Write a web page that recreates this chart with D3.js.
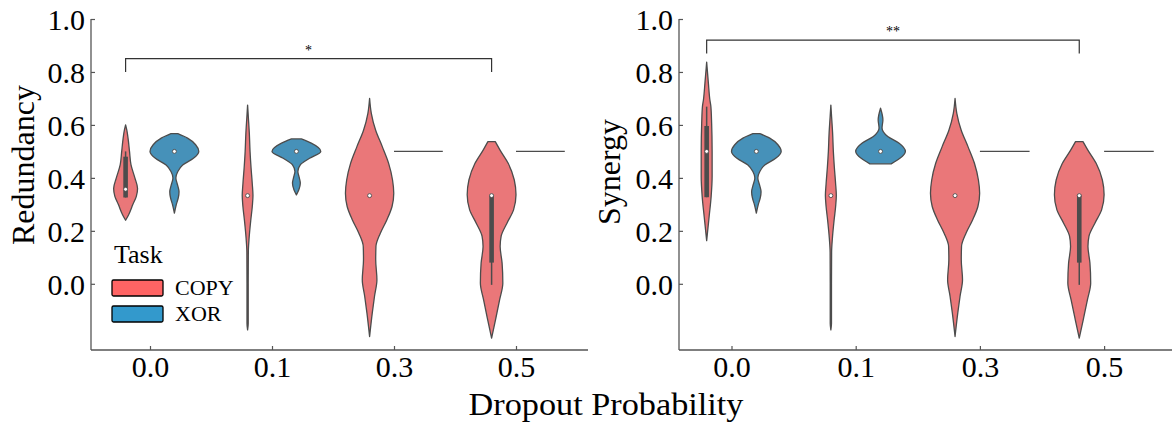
<!DOCTYPE html>
<html>
<head>
<meta charset="utf-8">
<script src="https://cdn.jsdelivr.net/npm/d3@7"></script>
<style>
  html, body { margin: 0; padding: 0; background: #fff; }
  svg { display: block; }
  text { font-family: "Liberation Serif", "Times New Roman", serif; fill: #000; }
</style>
</head>
<body>
<svg id="chart" width="1172" height="426"></svg>
<script>
// ---------------- DATA ----------------
const dropoutLevels = ["0.0", "0.1", "0.3", "0.5"];
const tasks = ["COPY", "XOR"];
const yTicks = [0.0, 0.2, 0.4, 0.6, 0.8, 1.0];
const taskColors = ["#ff6464", "#3399cc"];        // legend colours
const violinColors = ["#ea7779", "#4691b9"];      // desaturated fills

// Violin outlines: [value, relative half-width]
const redCopyShapes = [
  [[0.24,0],[0.26,0.12],[0.30,0.30],[0.33,0.44],[0.36,0.49],[0.40,0.38],[0.45,0.22],[0.50,0.16],[0.55,0.10],[0.58,0.05],[0.60,0]],
  [[-0.174,0],[-0.15,0.025],[0.0,0.025],[0.12,0.03],[0.17,0.06],[0.24,0.13],[0.29,0.19],[0.333,0.22],[0.38,0.19],[0.44,0.14],[0.50,0.10],[0.57,0.07],[0.63,0.03],[0.675,0]],
  [[-0.199,0],[-0.11,0.11],[-0.048,0.20],[0.015,0.30],[0.091,0.25],[0.141,0.26],[0.191,0.44],[0.242,0.71],[0.292,0.92],[0.342,0.99],[0.392,0.94],[0.455,0.78],[0.518,0.52],[0.581,0.245],[0.644,0.07],[0.70,0]],
  [[-0.205,0],[-0.136,0.16],[-0.06,0.33],[0.003,0.46],[0.078,0.43],[0.141,0.35],[0.179,0.39],[0.229,0.63],[0.279,0.90],[0.336,1.0],[0.392,0.93],[0.455,0.68],[0.506,0.34],[0.537,0.15]]
];
const redXorShapes = [
  [[0.267,0],[0.30,0.08],[0.325,0.16],[0.348,0.19],[0.37,0.14],[0.40,0.06],[0.424,0.14],[0.449,0.34],[0.474,0.78],[0.50,1.0],[0.525,0.87],[0.55,0.54],[0.567,0.14]],
  [[0.336,0],[0.355,0.10],[0.38,0.16],[0.40,0.12],[0.424,0.06],[0.449,0.16],[0.474,0.54],[0.50,1.0],[0.531,0.61],[0.547,0.20]],
  null,
  null
];
const synCopyShapes = [
  [[0.163,0],[0.254,0.10],[0.329,0.18],[0.405,0.22],[0.50,0.22],[0.606,0.20],[0.669,0.17],[0.694,0.13],[0.757,0.07],[0.837,0]],
  redCopyShapes[1],
  redCopyShapes[2],
  redCopyShapes[3]
];
const synXorShapes = [
  redXorShapes[0],
  [[0.453,0.43],[0.474,0.78],[0.50,1.0],[0.531,0.75],[0.556,0.29],[0.588,0.06],[0.619,0.095],[0.663,0]],
  null,
  null
];
// constant XOR values (no spread) at dropout 0.3 and 0.5
const xorConstant = [null, null, 0.5, 0.5];

// inner box stats: [whiskerLow, q1, median, q3, whiskerHigh]
const redCopyBox = [[0.326,0.326,0.357,0.48,0.50],[0.333,0.333,0.333,0.333,0.333],[0.333,0.333,0.333,0.333,0.333],[-0.004,0.08,0.333,0.336,0.336]];
const redXorBox  = [[0.5,0.5,0.5,0.5,0.5],[0.5,0.5,0.5,0.5,0.5],null,null];
const synCopyBox = [[0.327,0.327,0.5,0.596,0.669],redCopyBox[1],redCopyBox[2],redCopyBox[3]];
const synXorBox  = [[0.5,0.5,0.5,0.5,0.5],[0.5,0.5,0.5,0.5,0.5],null,null];

const panels = [
  { ylabel: "Redundancy", ylabLen: 160, copy: redCopyShapes, xor: redXorShapes, copyBox: redCopyBox, xorBox: redXorBox,
    sig: { from: 0, to: 3, y: 0.85, drop: 0.05, label: "*" },
    left: 91, right: 588, tick0: 150, step: 122, ylabX: 34, ylabY: 165, legend: true },
  { ylabel: "Synergy", ylabLen: 0, copy: synCopyShapes, xor: synXorShapes, copyBox: synCopyBox, xorBox: synXorBox,
    sig: { from: 0, to: 3, y: 0.92, drop: 0.05, label: "**" },
    left: 679, right: 1176, tick0: 731.5, step: 124.2, ylabX: 620, ylabY: 172, legend: false }
];

// ---------------- DRAW ----------------
const svg = d3.select("#chart");
const plotTop = 19, plotBottom = 350;
const y = d3.scaleLinear().domain([-0.25, 1.0]).range([plotBottom, plotTop]);
const axisColor = "#555";
const edge = "#4c4c4c";

panels.forEach(p => {
  const g = svg.append("g");
  const idx = d3.scaleLinear().domain([0, 3]).range([p.tick0, p.tick0 + 3 * p.step]);
  const dodge = 0.2, halfMax = 0.2 * p.step;

  // axes
  const yAxis = d3.axisLeft(y).tickValues(yTicks).tickFormat(d3.format(".1f")).tickSizeInner(-4).tickSizeOuter(0).tickPadding(6);
  const ya = g.append("g").attr("transform", `translate(${p.left},0)`).call(yAxis);
  const xScale = d3.scalePoint().domain(dropoutLevels).range([p.tick0, p.tick0 + 3 * p.step]);
  const xAxis = d3.axisBottom(xScale).tickSizeInner(-4).tickSizeOuter(0).tickPadding(6);
  const xa = g.append("g").attr("transform", `translate(0,${plotBottom})`).call(xAxis);
  [ya, xa].forEach(a => {
    a.selectAll("path.domain").remove();
    a.selectAll("line").attr("stroke", axisColor).attr("stroke-width", 1.2);
    a.selectAll("text").attr("font-size", 30).style("font-family", "'Liberation Serif', serif").attr("fill", "#000");
  });
  ya.selectAll("text").attr("dy", "0.34em");
  g.append("line").attr("x1", p.left).attr("x2", p.left).attr("y1", plotTop).attr("y2", plotBottom)
    .attr("stroke", axisColor).attr("stroke-width", 1.3);
  g.append("line").attr("x1", p.left).attr("x2", p.right).attr("y1", plotBottom).attr("y2", plotBottom)
    .attr("stroke", axisColor).attr("stroke-width", 1.3);

  // y label
  const yl = g.append("text").attr("transform", `translate(${p.ylabX},${p.ylabY}) rotate(-90)`)
    .attr("text-anchor", "middle").attr("font-size", 32).text(p.ylabel);
  if (p.ylabLen) yl.attr("textLength", p.ylabLen).attr("lengthAdjust", "spacingAndGlyphs");

  // violins
  const drawViolin = (shape, cx, color) => {
    const area = d3.area()
      .curve(d3.curveMonotoneY)
      .y(d => y(d[0]))
      .x0(d => cx - d[1] * halfMax)
      .x1(d => cx + d[1] * halfMax);
    g.append("path").datum(shape).attr("d", area)
      .attr("fill", color).attr("stroke", edge).attr("stroke-width", 1.3).attr("stroke-linejoin", "round");
  };
  const drawBox = (b, cx) => {
    if (!b) return;
    g.append("line").attr("x1", cx).attr("x2", cx).attr("y1", y(b[0])).attr("y2", y(b[4]))
      .attr("stroke", edge).attr("stroke-width", 1.5);
    if (b[3] > b[1]) {
      g.append("rect").attr("x", cx - 2.3).attr("width", 4.6).attr("y", y(b[3])).attr("height", y(b[1]) - y(b[3]))
        .attr("fill", edge);
    }
    g.append("circle").attr("cx", cx).attr("cy", y(b[2])).attr("r", 2)
      .attr("fill", "#fff").attr("stroke", edge).attr("stroke-width", 0.9);
  };

  dropoutLevels.forEach((lvl, i) => {
    const cCopy = idx(i - dodge), cXor = idx(i + dodge);
    drawViolin(p.copy[i], cCopy, violinColors[0]);
    drawBox(p.copyBox[i], cCopy);
    if (p.xor[i]) {
      drawViolin(p.xor[i], cXor, violinColors[1]);
      drawBox(p.xorBox[i], cXor);
    } else if (xorConstant[i] !== null) {
      g.append("line").attr("x1", cXor - halfMax).attr("x2", cXor + halfMax)
        .attr("y1", y(xorConstant[i])).attr("y2", y(xorConstant[i]))
        .attr("stroke", edge).attr("stroke-width", 1.3);
    }
  });

  // significance bracket
  const s = p.sig;
  const xa1 = idx(s.from - dodge), xa2 = idx(s.to - dodge);
  g.append("path")
    .attr("d", `M${xa1},${y(s.y - s.drop)}V${y(s.y)}H${xa2}V${y(s.y - s.drop)}`)
    .attr("fill", "none").attr("stroke", "#333").attr("stroke-width", 1.2);
  g.append("text").attr("x", (xa1 + xa2) / 2).attr("y", y(s.y) - 4)
    .attr("text-anchor", "middle").attr("font-size", 14).text(s.label);

  // legend
  if (p.legend) {
    const lg = g.append("g");
    lg.append("text").attr("x", 114).attr("y", 263).attr("font-size", 26).text("Task");
    tasks.forEach((t, k) => {
      const yy = 280 + k * 26;
      lg.append("rect").attr("x", 112).attr("y", yy).attr("width", 51).attr("height", 16).attr("rx", 1.5)
        .attr("fill", taskColors[k]).attr("stroke", "#000").attr("stroke-width", 1.3);
      lg.append("text").attr("x", 175).attr("y", yy + 15).attr("font-size", 22).text(t);
    });
  }
});

// shared x label
svg.append("text").attr("x", 606).attr("y", 415).attr("text-anchor", "middle")
  .attr("font-size", 32).attr("textLength", 275).attr("lengthAdjust", "spacingAndGlyphs")
  .text("Dropout Probability");
</script>
</body>
</html>
